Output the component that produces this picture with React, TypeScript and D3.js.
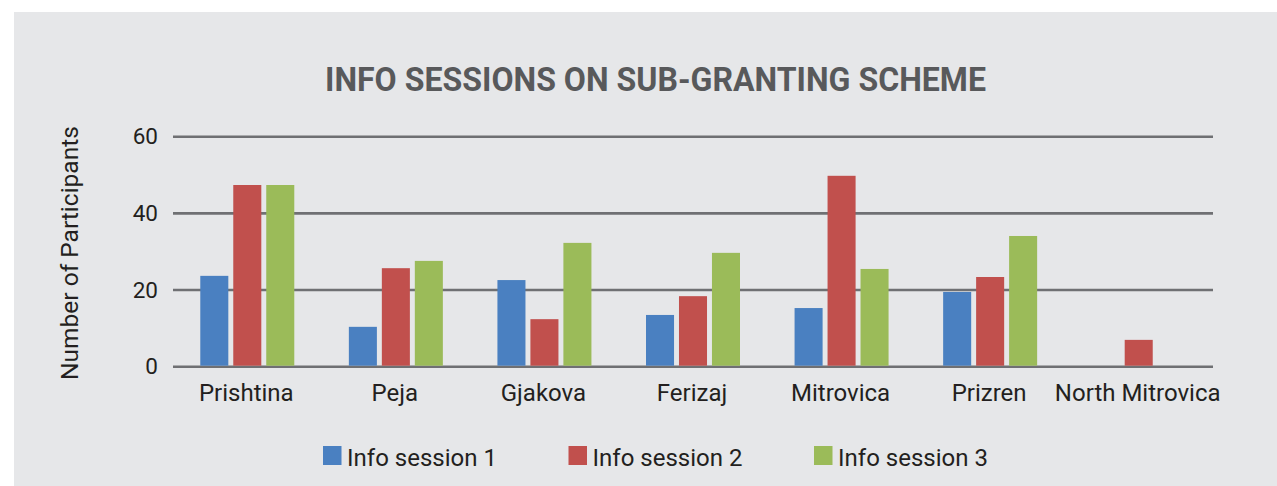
import React, { useEffect, useRef } from 'react';
import * as d3 from 'd3';

const categories = [
  'Prishtina',
  'Peja',
  'Gjakova',
  'Ferizaj',
  'Mitrovica',
  'Prizren',
  'North Mitrovica',
];

const seriesNames = ['Info session 1', 'Info session 2', 'Info session 3'];

// values (North Mitrovica had only session 2)
const session1 = [23.7, 10.4, 22.6, 13.5, 15.3, 19.5, 0];
const session2 = [47.4, 25.7, 12.4, 18.4, 49.8, 23.4, 7.0];
const session3 = [47.4, 27.6, 32.3, 29.7, 25.5, 34.1, 0];

const seriesColors = ['#4a80c1', '#c1504d', '#9bbb59'];

const yTicks = [0, 20, 40, 60];

const title = 'INFO SESSIONS ON SUB-GRANTING SCHEME';
const yTitle = 'Number of Participants';

function App() {
  const svgRef = useRef<SVGSVGElement | null>(null);

  useEffect(() => {
    const width = 1277;
    const height = 486;
    const plot = { left: 173, right: 1213, top: 136.7, bottom: 366.7 };
    const font = 'Roboto, "Noto Sans", sans-serif';

    const svg = d3.select(svgRef.current);
    svg.selectAll('*').remove();

    // grey panel
    svg
      .append('rect')
      .attr('x', 14)
      .attr('y', 12)
      .attr('width', width - 14)
      .attr('height', height - 12)
      .attr('fill', '#e6e7e9');

    // title (squeezed to the width of the condensed original)
    svg
      .append('text')
      .attr('x', (325 + 986) / 2)
      .attr('y', 90.5)
      .attr('text-anchor', 'middle')
      .attr('textLength', 661)
      .attr('lengthAdjust', 'spacingAndGlyphs')
      .style('font-family', font)
      .style('font-size', '33px')
      .style('font-weight', '700')
      .style('fill', '#58595b')
      .text(title);

    // scales
    const x0 = d3
      .scaleBand()
      .domain(categories)
      .range([plot.left, plot.right])
      .padding(0);

    const groupWidth = 94;
    const x1 = d3
      .scaleBand()
      .domain(seriesNames)
      .range([0, groupWidth])
      .paddingInner(0.15)
      .paddingOuter(0);

    const y = d3.scaleLinear().domain([0, 60]).range([plot.bottom, plot.top]);

    // gridlines
    svg
      .append('g')
      .selectAll('line')
      .data(yTicks)
      .enter()
      .append('line')
      .attr('x1', plot.left)
      .attr('x2', plot.right)
      .attr('y1', (d) => y(d))
      .attr('y2', (d) => y(d))
      .attr('stroke', '#6f7073')
      .attr('stroke-width', 2.6);

    // y tick labels
    svg
      .append('g')
      .selectAll('text')
      .data(yTicks)
      .enter()
      .append('text')
      .attr('x', 158)
      .attr('y', (d) => y(d) + 7.5)
      .attr('text-anchor', 'end')
      .style('font-family', font)
      .style('font-size', '22.5px')
      .style('fill', '#231f20')
      .text((d) => d);

    // y title
    svg
      .append('text')
      .attr('transform', `translate(78, 253) rotate(-90)`)
      .attr('text-anchor', 'middle')
      .style('font-family', font)
      .style('font-size', '24.5px')
      .style('fill', '#231f20')
      .text(yTitle);

    // bars
    const table = categories.map((c, i) => ({
      category: c,
      values: [session1[i], session2[i], session3[i]],
    }));

    const groups = svg
      .append('g')
      .selectAll('g')
      .data(table)
      .enter()
      .append('g')
      .attr(
        'transform',
        (d) =>
          `translate(${x0(d.category)! + (x0.bandwidth() - groupWidth) / 2}, 0)`,
      );

    groups
      .selectAll('rect')
      .data((d) =>
        d.values.map((v, j) => ({ series: seriesNames[j], value: v, j })),
      )
      .enter()
      .filter((d) => d.value > 0)
      .append('rect')
      .attr('x', (d) => x1(d.series)!)
      .attr('y', (d) => y(d.value))
      .attr('width', x1.bandwidth())
      .attr('height', (d) => y(0) - y(d.value) - 1)
      .attr('fill', (d) => seriesColors[d.j]);

    // category labels
    svg
      .append('g')
      .selectAll('text')
      .data(categories)
      .enter()
      .append('text')
      .attr('x', (d) => x0(d)! + x0.bandwidth() / 2 - 1)
      .attr('y', 401)
      .attr('text-anchor', 'middle')
      .style('font-family', font)
      .style('font-size', '24px')
      .style('fill', '#231f20')
      .text((d) => d);

    // legend
    const legendX = d3
      .scaleBand()
      .domain(seriesNames)
      .range([323, 323 + 3 * 245.5]);

    const legendItems = svg
      .append('g')
      .selectAll('g')
      .data(seriesNames)
      .enter()
      .append('g')
      .attr('transform', (d) => `translate(${legendX(d)}, 446)`);

    legendItems
      .append('rect')
      .attr('width', 18.5)
      .attr('height', 19)
      .attr('fill', (d, i) => seriesColors[i]);

    legendItems
      .append('text')
      .attr('x', 24)
      .attr('y', 19.5)
      .style('font-family', font)
      .style('font-size', '24px')
      .style('fill', '#231f20')
      .text((d) => d);
  }, []);

  return (
    <svg
      ref={svgRef}
      width={1277}
      height={486}
      style={{ position: 'absolute', left: 0, top: 0, display: 'block' }}
    />
  );
}

export default App;
